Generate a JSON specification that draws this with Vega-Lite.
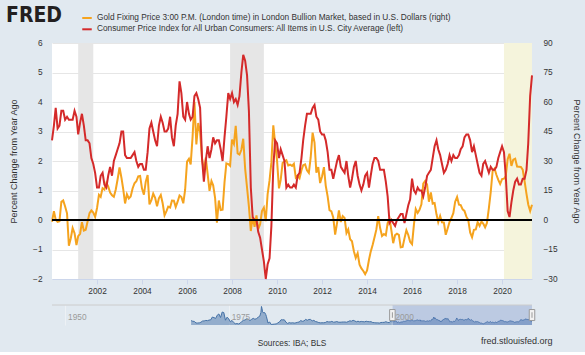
{
  "$schema": "https://vega.github.io/schema/vega-lite/v6.json",
  "background": "#e1e9f0",
  "padding": {"left": 6, "top": 12, "right": 5, "bottom": 5},
  "spacing": 9,
  "datasets": {
    "rec": [
      {"d": "2001-03-01", "e": "2001-11-01", "k": "a"},
      {"d": "2007-12-01", "e": "2009-06-01", "k": "a"},
      {"d": "2020-02-01", "e": "2021-05-01", "k": "b"}
    ],
    "main": [
      {"d":"2000-01-01","cpi":2.7,"gold":-0.9},{"d":"2000-02-01","cpi":3.2,"gold":4.5},{"d":"2000-03-01","cpi":3.8,"gold":0.1},{"d":"2000-04-01","cpi":3.1,"gold":-0.9},{"d":"2000-05-01","cpi":3.2,"gold":-0.6},{"d":"2000-06-01","cpi":3.7,"gold":9.3},{"d":"2000-07-01","cpi":3.7,"gold":10.0},{"d":"2000-08-01","cpi":3.4,"gold":6.9},{"d":"2000-09-01","cpi":3.5,"gold":3.4},{"d":"2000-10-01","cpi":3.4,"gold":-13.1},{"d":"2000-11-01","cpi":3.4,"gold":-9.3},{"d":"2000-12-01","cpi":3.4,"gold":-4.1},
      {"d":"2001-01-01","cpi":3.7,"gold":-6.7},{"d":"2001-02-01","cpi":3.5,"gold":-12.7},{"d":"2001-03-01","cpi":2.9,"gold":-8.2},{"d":"2001-04-01","cpi":3.3,"gold":-7.0},{"d":"2001-05-01","cpi":3.6,"gold":-1.1},{"d":"2001-06-01","cpi":3.2,"gold":-5.4},{"d":"2001-07-01","cpi":2.7,"gold":-5.0},{"d":"2001-08-01","cpi":2.7,"gold":-0.8},{"d":"2001-09-01","cpi":2.6,"gold":3.5},{"d":"2001-10-01","cpi":2.1,"gold":4.9},{"d":"2001-11-01","cpi":1.9,"gold":3.8},{"d":"2001-12-01","cpi":1.6,"gold":1.6},
      {"d":"2002-01-01","cpi":1.1,"gold":6.1},{"d":"2002-02-01","cpi":1.1,"gold":12.8},{"d":"2002-03-01","cpi":1.5,"gold":11.8},{"d":"2002-04-01","cpi":1.6,"gold":16.2},{"d":"2002-05-01","cpi":1.2,"gold":15.5},{"d":"2002-06-01","cpi":1.1,"gold":18.9},{"d":"2002-07-01","cpi":1.5,"gold":17.1},{"d":"2002-08-01","cpi":1.8,"gold":13.9},{"d":"2002-09-01","cpi":1.5,"gold":12.6},{"d":"2002-10-01","cpi":2.0,"gold":11.8},{"d":"2002-11-01","cpi":2.2,"gold":15.5},{"d":"2002-12-01","cpi":2.4,"gold":20.7},
      {"d":"2003-01-01","cpi":2.6,"gold":26.7},{"d":"2003-02-01","cpi":3.0,"gold":21.5},{"d":"2003-03-01","cpi":3.0,"gold":15.9},{"d":"2003-04-01","cpi":2.2,"gold":8.4},{"d":"2003-05-01","cpi":2.1,"gold":13.1},{"d":"2003-06-01","cpi":2.1,"gold":11.0},{"d":"2003-07-01","cpi":2.1,"gold":12.0},{"d":"2003-08-01","cpi":2.2,"gold":16.0},{"d":"2003-09-01","cpi":2.3,"gold":18.7},{"d":"2003-10-01","cpi":2.0,"gold":19.7},{"d":"2003-11-01","cpi":1.8,"gold":22.2},{"d":"2003-12-01","cpi":1.9,"gold":22.4},
      {"d":"2004-01-01","cpi":1.9,"gold":16.0},{"d":"2004-02-01","cpi":1.7,"gold":12.9},{"d":"2004-03-01","cpi":1.7,"gold":19.4},{"d":"2004-04-01","cpi":2.3,"gold":22.9},{"d":"2004-05-01","cpi":3.1,"gold":7.9},{"d":"2004-06-01","cpi":3.3,"gold":10.1},{"d":"2004-07-01","cpi":3.0,"gold":13.4},{"d":"2004-08-01","cpi":2.7,"gold":11.3},{"d":"2004-09-01","cpi":2.5,"gold":7.0},{"d":"2004-10-01","cpi":3.2,"gold":11.0},{"d":"2004-11-01","cpi":3.5,"gold":12.7},{"d":"2004-12-01","cpi":3.3,"gold":8.5},
      {"d":"2005-01-01","cpi":3.0,"gold":2.4},{"d":"2005-02-01","cpi":3.0,"gold":4.5},{"d":"2005-03-01","cpi":3.1,"gold":6.8},{"d":"2005-04-01","cpi":3.5,"gold":6.3},{"d":"2005-05-01","cpi":2.8,"gold":9.9},{"d":"2005-06-01","cpi":2.5,"gold":9.8},{"d":"2005-07-01","cpi":3.2,"gold":6.6},{"d":"2005-08-01","cpi":3.6,"gold":9.3},{"d":"2005-09-01","cpi":4.7,"gold":12.5},{"d":"2005-10-01","cpi":4.3,"gold":11.7},{"d":"2005-11-01","cpi":3.5,"gold":8.5},{"d":"2005-12-01","cpi":3.4,"gold":15.4},
      {"d":"2006-01-01","cpi":4.0,"gold":29.7},{"d":"2006-02-01","cpi":3.6,"gold":31.1},{"d":"2006-03-01","cpi":3.4,"gold":28.3},{"d":"2006-04-01","cpi":3.5,"gold":42.4},{"d":"2006-05-01","cpi":4.2,"gold":60.1},{"d":"2006-06-01","cpi":4.3,"gold":38.4},{"d":"2006-07-01","cpi":4.1,"gold":49.3},{"d":"2006-08-01","cpi":3.8,"gold":44.5},{"d":"2006-09-01","cpi":2.1,"gold":31.2},{"d":"2006-10-01","cpi":1.3,"gold":24.7},{"d":"2006-11-01","cpi":2.0,"gold":31.7},{"d":"2006-12-01","cpi":2.5,"gold":23.5},
      {"d":"2007-01-01","cpi":2.1,"gold":14.8},{"d":"2007-02-01","cpi":2.4,"gold":19.8},{"d":"2007-03-01","cpi":2.8,"gold":17.6},{"d":"2007-04-01","cpi":2.6,"gold":11.3},{"d":"2007-05-01","cpi":2.7,"gold":-1.3},{"d":"2007-06-01","cpi":2.7,"gold":9.9},{"d":"2007-07-01","cpi":2.4,"gold":5.0},{"d":"2007-08-01","cpi":2.0,"gold":5.2},{"d":"2007-09-01","cpi":2.8,"gold":19.1},{"d":"2007-10-01","cpi":3.5,"gold":28.8},{"d":"2007-11-01","cpi":4.3,"gold":28.4},{"d":"2007-12-01","cpi":4.1,"gold":27.5},
      {"d":"2008-01-01","cpi":4.3,"gold":40.9},{"d":"2008-02-01","cpi":4.0,"gold":38.7},{"d":"2008-03-01","cpi":4.1,"gold":47.9},{"d":"2008-04-01","cpi":3.9,"gold":33.9},{"d":"2008-05-01","cpi":4.2,"gold":33.3},{"d":"2008-06-01","cpi":5.0,"gold":35.7},{"d":"2008-07-01","cpi":5.6,"gold":41.3},{"d":"2008-08-01","cpi":5.4,"gold":26.1},{"d":"2008-09-01","cpi":4.9,"gold":16.4},{"d":"2008-10-01","cpi":3.7,"gold":6.9},{"d":"2008-11-01","cpi":1.1,"gold":-5.6},{"d":"2008-12-01","cpi":0.1,"gold":1.6},
      {"d":"2009-01-01","cpi":0.0,"gold":-3.5},{"d":"2009-02-01","cpi":0.0,"gold":2.3},{"d":"2009-03-01","cpi":-0.4,"gold":-4.6},{"d":"2009-04-01","cpi":-0.6,"gold":-2.1},{"d":"2009-05-01","cpi":-1.0,"gold":4.5},{"d":"2009-06-01","cpi":-1.4,"gold":6.3},{"d":"2009-07-01","cpi":-2.0,"gold":-0.6},{"d":"2009-08-01","cpi":-1.5,"gold":13.2},{"d":"2009-09-01","cpi":-1.3,"gold":20.1},{"d":"2009-10-01","cpi":-0.2,"gold":29.3},{"d":"2009-11-01","cpi":1.8,"gold":48.1},{"d":"2009-12-01","cpi":2.7,"gold":39.0},
      {"d":"2010-01-01","cpi":2.6,"gold":30.2},{"d":"2010-02-01","cpi":2.1,"gold":16.1},{"d":"2010-03-01","cpi":2.4,"gold":20.4},{"d":"2010-04-01","cpi":2.2,"gold":29.0},{"d":"2010-05-01","cpi":2.0,"gold":29.8},{"d":"2010-06-01","cpi":1.1,"gold":30.4},{"d":"2010-07-01","cpi":1.2,"gold":27.7},{"d":"2010-08-01","cpi":1.1,"gold":28.1},{"d":"2010-09-01","cpi":1.1,"gold":27.5},{"d":"2010-10-01","cpi":1.2,"gold":28.6},{"d":"2010-11-01","cpi":1.1,"gold":21.6},{"d":"2010-12-01","cpi":1.5,"gold":22.6},
      {"d":"2011-01-01","cpi":1.6,"gold":21.3},{"d":"2011-02-01","cpi":2.1,"gold":25.3},{"d":"2011-03-01","cpi":2.7,"gold":27.9},{"d":"2011-04-01","cpi":3.2,"gold":28.3},{"d":"2011-05-01","cpi":3.6,"gold":25.3},{"d":"2011-06-01","cpi":3.6,"gold":24.0},{"d":"2011-07-01","cpi":3.6,"gold":31.8},{"d":"2011-08-01","cpi":3.8,"gold":44.4},{"d":"2011-09-01","cpi":3.9,"gold":39.4},{"d":"2011-10-01","cpi":3.5,"gold":24.1},{"d":"2011-11-01","cpi":3.4,"gold":26.9},{"d":"2011-12-01","cpi":3.0,"gold":18.8},
      {"d":"2012-01-01","cpi":2.9,"gold":22.1},{"d":"2012-02-01","cpi":2.9,"gold":26.9},{"d":"2012-03-01","cpi":2.7,"gold":17.5},{"d":"2012-04-01","cpi":2.3,"gold":12.0},{"d":"2012-05-01","cpi":1.7,"gold":5.0},{"d":"2012-06-01","cpi":1.7,"gold":4.4},{"d":"2012-07-01","cpi":1.4,"gold":1.3},{"d":"2012-08-01","cpi":1.7,"gold":-7.4},{"d":"2012-09-01","cpi":2.0,"gold":-1.5},{"d":"2012-10-01","cpi":2.2,"gold":4.9},{"d":"2012-11-01","cpi":1.8,"gold":-1.0},{"d":"2012-12-01","cpi":1.7,"gold":2.0},
      {"d":"2013-01-01","cpi":1.6,"gold":1.0},{"d":"2013-02-01","cpi":2.0,"gold":-6.6},{"d":"2013-03-01","cpi":1.5,"gold":-4.8},{"d":"2013-04-01","cpi":1.1,"gold":-9.8},{"d":"2013-05-01","cpi":1.4,"gold":-10.8},{"d":"2013-06-01","cpi":1.8,"gold":-15.9},{"d":"2013-07-01","cpi":2.0,"gold":-19.3},{"d":"2013-08-01","cpi":1.5,"gold":-16.9},{"d":"2013-09-01","cpi":1.2,"gold":-22.7},{"d":"2013-10-01","cpi":1.0,"gold":-24.6},{"d":"2013-11-01","cpi":1.2,"gold":-25.9},{"d":"2013-12-01","cpi":1.5,"gold":-27.5},
      {"d":"2014-01-01","cpi":1.6,"gold":-25.6},{"d":"2014-02-01","cpi":1.1,"gold":-20.2},{"d":"2014-03-01","cpi":1.5,"gold":-16.1},{"d":"2014-04-01","cpi":1.9,"gold":-12.7},{"d":"2014-05-01","cpi":2.1,"gold":-8.9},{"d":"2014-06-01","cpi":2.1,"gold":-4.8},{"d":"2014-07-01","cpi":2.0,"gold":2.0},{"d":"2014-08-01","cpi":1.7,"gold":-4.1},{"d":"2014-09-01","cpi":1.7,"gold":-8.1},{"d":"2014-10-01","cpi":1.7,"gold":-7.1},{"d":"2014-11-01","cpi":1.3,"gold":-7.8},{"d":"2014-12-01","cpi":0.8,"gold":-1.6},
      {"d":"2015-01-01","cpi":-0.1,"gold":0.6},{"d":"2015-02-01","cpi":0.0,"gold":-5.6},{"d":"2015-03-01","cpi":-0.1,"gold":-11.8},{"d":"2015-04-01","cpi":-0.2,"gold":-7.7},{"d":"2015-05-01","cpi":0.0,"gold":-7.0},{"d":"2015-06-01","cpi":0.1,"gold":-7.6},{"d":"2015-07-01","cpi":0.2,"gold":-13.9},{"d":"2015-08-01","cpi":0.2,"gold":-13.7},{"d":"2015-09-01","cpi":-0.1,"gold":-9.2},{"d":"2015-10-01","cpi":0.2,"gold":-5.2},{"d":"2015-11-01","cpi":0.5,"gold":-7.6},{"d":"2015-12-01","cpi":0.7,"gold":-11.1},
      {"d":"2016-01-01","cpi":1.4,"gold":-12.3},{"d":"2016-02-01","cpi":1.0,"gold":-2.2},{"d":"2016-03-01","cpi":0.9,"gold":5.6},{"d":"2016-04-01","cpi":1.1,"gold":3.6},{"d":"2016-05-01","cpi":1.0,"gold":5.2},{"d":"2016-06-01","cpi":1.0,"gold":8.0},{"d":"2016-07-01","cpi":0.8,"gold":18.5},{"d":"2016-08-01","cpi":1.1,"gold":19.9},{"d":"2016-09-01","cpi":1.5,"gold":18.0},{"d":"2016-10-01","cpi":1.6,"gold":9.3},{"d":"2016-11-01","cpi":1.7,"gold":14.0},{"d":"2016-12-01","cpi":2.1,"gold":8.3},
      {"d":"2017-01-01","cpi":2.5,"gold":8.6},{"d":"2017-02-01","cpi":2.7,"gold":2.9},{"d":"2017-03-01","cpi":2.4,"gold":-1.1},{"d":"2017-04-01","cpi":2.2,"gold":2.0},{"d":"2017-05-01","cpi":1.9,"gold":-1.2},{"d":"2017-06-01","cpi":1.6,"gold":-1.3},{"d":"2017-07-01","cpi":1.7,"gold":-7.5},{"d":"2017-08-01","cpi":1.9,"gold":-4.3},{"d":"2017-09-01","cpi":2.2,"gold":-0.9},{"d":"2017-10-01","cpi":2.0,"gold":1.0},{"d":"2017-11-01","cpi":2.2,"gold":3.5},{"d":"2017-12-01","cpi":2.1,"gold":9.3},
      {"d":"2018-01-01","cpi":2.1,"gold":11.7},{"d":"2018-02-01","cpi":2.2,"gold":7.8},{"d":"2018-03-01","cpi":2.4,"gold":7.6},{"d":"2018-04-01","cpi":2.5,"gold":5.4},{"d":"2018-05-01","cpi":2.8,"gold":4.6},{"d":"2018-06-01","cpi":2.9,"gold":1.7},{"d":"2018-07-01","cpi":2.9,"gold":0.1},{"d":"2018-08-01","cpi":2.7,"gold":-6.3},{"d":"2018-09-01","cpi":2.3,"gold":-8.8},{"d":"2018-10-01","cpi":2.5,"gold":-5.0},{"d":"2018-11-01","cpi":2.2,"gold":-4.8},{"d":"2018-12-01","cpi":1.9,"gold":-1.1},
      {"d":"2019-01-01","cpi":1.6,"gold":-3.0},{"d":"2019-02-01","cpi":1.5,"gold":-0.8},{"d":"2019-03-01","cpi":1.9,"gold":-1.8},{"d":"2019-04-01","cpi":2.0,"gold":-3.7},{"d":"2019-05-01","cpi":1.8,"gold":-1.5},{"d":"2019-06-01","cpi":1.6,"gold":6.0},{"d":"2019-07-01","cpi":1.8,"gold":14.2},{"d":"2019-08-01","cpi":1.7,"gold":24.9},{"d":"2019-09-01","cpi":1.7,"gold":26.1},{"d":"2019-10-01","cpi":1.8,"gold":23.0},{"d":"2019-11-01","cpi":2.1,"gold":20.4},{"d":"2019-12-01","cpi":2.3,"gold":18.3},
      {"d":"2020-01-01","cpi":2.5,"gold":20.8},{"d":"2020-02-01","cpi":2.3,"gold":21.0},{"d":"2020-03-01","cpi":1.5,"gold":22.4},{"d":"2020-04-01","cpi":0.3,"gold":30.9},{"d":"2020-05-01","cpi":0.1,"gold":33.7},{"d":"2020-06-01","cpi":0.6,"gold":27.5},{"d":"2020-07-01","cpi":1.0,"gold":30.7},{"d":"2020-08-01","cpi":1.3,"gold":31.2},{"d":"2020-09-01","cpi":1.4,"gold":27.2},{"d":"2020-10-01","cpi":1.2,"gold":27.1},{"d":"2020-11-01","cpi":1.2,"gold":27.0},{"d":"2020-12-01","cpi":1.4,"gold":25.6},
      {"d":"2021-01-01","cpi":1.4,"gold":19.6},{"d":"2021-02-01","cpi":1.7,"gold":13.2},{"d":"2021-03-01","cpi":2.6,"gold":7.9},{"d":"2021-04-01","cpi":4.2,"gold":4.6},{"d":"2021-05-01","cpi":4.9,"gold":7.8}
    ],
    "hist": [
      {"d":"1969-04-01","gold":14},{"d":"1969-07-01","gold":5.8},{"d":"1969-10-01","gold":2.8},
      {"d":"1970-01-01","gold":-17.3},{"d":"1970-04-01","gold":-17},{"d":"1970-07-01","gold":-15.6},{"d":"1970-10-01","gold":-7.2},
      {"d":"1971-01-01","gold":8.6},{"d":"1971-04-01","gold":9.7},{"d":"1971-07-01","gold":16.1},{"d":"1971-10-01","gold":13.3},
      {"d":"1972-01-01","gold":20.8},{"d":"1972-04-01","gold":24},{"d":"1972-07-01","gold":60.2},{"d":"1972-10-01","gold":52.7},
      {"d":"1973-01-01","gold":42.1},{"d":"1973-04-01","gold":84.7},{"d":"1973-07-01","gold":100},{"d":"1973-10-01","gold":54.2},
      {"d":"1974-01-01","gold":125},{"d":"1974-04-01","gold":118},{"d":"1974-07-01","gold":19},{"d":"1974-10-01","gold":58.6},
      {"d":"1975-01-01","gold":36.5},{"d":"1975-04-01","gold":-1.3},{"d":"1975-07-01","gold":16.4},{"d":"1975-10-01","gold":-10},
      {"d":"1976-01-01","gold":-27.3},{"d":"1976-04-01","gold":-24.5},{"d":"1976-07-01","gold":-29.1},{"d":"1976-10-01","gold":-18.8},
      {"d":"1977-01-01","gold":3.2},{"d":"1977-04-01","gold":16.4},{"d":"1977-07-01","gold":22.2},{"d":"1977-10-01","gold":36.6},
      {"d":"1978-01-01","gold":30.9},{"d":"1978-04-01","gold":14.5},{"d":"1978-07-01","gold":30.6},{"d":"1978-10-01","gold":43.3},
      {"d":"1979-01-01","gold":31.2},{"d":"1979-04-01","gold":39.8},{"d":"1979-07-01","gold":57.5},{"d":"1979-10-01","gold":72.4},{"d":"1979-12-01","gold":119},
      {"d":"1980-01-01","gold":197},{"d":"1980-02-01","gold":171},{"d":"1980-03-01","gold":128},{"d":"1980-04-01","gold":116.5},{"d":"1980-07-01","gold":117.3},{"d":"1980-09-01","gold":90},{"d":"1980-10-01","gold":68.8},
      {"d":"1981-01-01","gold":-17.5},{"d":"1981-04-01","gold":-4.3},{"d":"1981-07-01","gold":-36.5},{"d":"1981-10-01","gold":-34},
      {"d":"1982-01-01","gold":-31.1},{"d":"1982-04-01","gold":-29.1},{"d":"1982-07-01","gold":-16.7},{"d":"1982-10-01","gold":-3.1},
      {"d":"1983-01-01","gold":25.1},{"d":"1983-04-01","gold":23.4},{"d":"1983-07-01","gold":24.1},{"d":"1983-10-01","gold":-6.8},
      {"d":"1984-01-01","gold":-22.8},{"d":"1984-04-01","gold":-11.9},{"d":"1984-07-01","gold":-17.8},{"d":"1984-10-01","gold":-13.7},
      {"d":"1985-01-01","gold":-18.4},{"d":"1985-04-01","gold":-14.9},{"d":"1985-07-01","gold":-8.7},{"d":"1985-10-01","gold":-4.2},
      {"d":"1986-01-01","gold":14.1},{"d":"1986-04-01","gold":4.8},{"d":"1986-07-01","gold":9.8},{"d":"1986-10-01","gold":29.9},
      {"d":"1987-01-01","gold":18.2},{"d":"1987-04-01","gold":28.8},{"d":"1987-07-01","gold":29.2},{"d":"1987-10-01","gold":10.2},
      {"d":"1988-01-01","gold":17},{"d":"1988-04-01","gold":2.4},{"d":"1988-07-01","gold":-3},{"d":"1988-10-01","gold":-11.6},
      {"d":"1989-01-01","gold":-15.4},{"d":"1989-04-01","gold":-14.4},{"d":"1989-07-01","gold":-14.1},{"d":"1989-10-01","gold":-11.2},
      {"d":"1990-01-01","gold":1.5},{"d":"1990-04-01","gold":-2.6},{"d":"1990-07-01","gold":-3.3},{"d":"1990-10-01","gold":3.9},
      {"d":"1991-01-01","gold":-6.5},{"d":"1991-04-01","gold":-4.6},{"d":"1991-07-01","gold":1.6},{"d":"1991-10-01","gold":-5.7},
      {"d":"1992-01-01","gold":-7.6},{"d":"1992-04-01","gold":-5.3},{"d":"1992-07-01","gold":-4.1},{"d":"1992-10-01","gold":-4.1},
      {"d":"1993-01-01","gold":-7.2},{"d":"1993-04-01","gold":1.1},{"d":"1993-07-01","gold":11},{"d":"1993-10-01","gold":6.6},
      {"d":"1994-01-01","gold":17.6},{"d":"1994-04-01","gold":10.3},{"d":"1994-07-01","gold":-1.6},{"d":"1994-10-01","gold":6.2},
      {"d":"1995-01-01","gold":-2.1},{"d":"1995-04-01","gold":3.3},{"d":"1995-07-01","gold":0.1},{"d":"1995-10-01","gold":-1.7},
      {"d":"1996-01-01","gold":5.5},{"d":"1996-04-01","gold":0.8},{"d":"1996-07-01","gold":-0.6},{"d":"1996-10-01","gold":-0.5},
      {"d":"1997-01-01","gold":-11.1},{"d":"1997-04-01","gold":-12.4},{"d":"1997-07-01","gold":-15.5},{"d":"1997-10-01","gold":-14.7},
      {"d":"1998-01-01","gold":-18.5},{"d":"1998-04-01","gold":-10.5},{"d":"1998-07-01","gold":-9.6},{"d":"1998-10-01","gold":-8.9},
      {"d":"1999-01-01","gold":-0.7},{"d":"1999-04-01","gold":-8.3},{"d":"1999-07-01","gold":-12.6},{"d":"1999-10-01","gold":5.0},{"d":"1999-12-01","gold":-2.9}
    ]
  },
  "vconcat": [
    {
      "width": 480,
      "height": 236,
      "view": {"fill": "white", "stroke": null},
      "encoding": {
        "x": {
          "field": "d", "type": "temporal",
          "scale": {"domain": [{"year": 2000, "month": 1, "date": 1}, {"year": 2021, "month": 5, "date": 1}]},
          "axis": {
            "values": [{"year": 2002}, {"year": 2004}, {"year": 2006}, {"year": 2008}, {"year": 2010}, {"year": 2012}, {"year": 2014}, {"year": 2016}, {"year": 2018}, {"year": 2020}],
            "format": "%Y", "title": null, "labelOverlap": false, "tickCount": 12
          }
        }
      },
      "layer": [
        {
          "data": {"name": "rec"},
          "mark": {"type": "rect"},
          "encoding": {
            "x2": {"field": "e"},
            "fill": {"condition": {"test": "datum.k === 'b'", "value": "#f5f4dc"}, "value": "#e6e6e6"}
          }
        },
        {
          "data": {"name": "main"},
          "mark": {"type": "line", "strokeWidth": 2},
          "encoding": {
            "y": {
              "field": "gold", "type": "quantitative",
              "scale": {"domain": [-30, 90], "nice": false, "zero": false},
              "axis": {"orient": "right", "values": [-30, -15, 0, 15, 30, 45, 60, 75, 90], "tickCount": 9, "labelOverlap": false, "title": "Percent Change from Year Ago", "grid": false, "domain": false, "ticks": false, "labelPadding": 11, "titlePadding": 14.5}
            },
            "color": {
              "datum": "Gold Fixing Price 3:00 P.M. (London time) in London Bullion Market, based in U.S. Dollars (right)",
              "scale": {
                "domain": ["Gold Fixing Price 3:00 P.M. (London time) in London Bullion Market, based in U.S. Dollars (right)", "Consumer Price Index for All Urban Consumers: All Items in U.S. City Average (left)"],
                "range": ["#f5a31e", "#d42a2a"]
              },
              "legend": {
                "orient": "none", "legendX": -46, "legendY": -31, "direction": "vertical",
                "title": "FRED", "titleOrient": "left",
                "titleFont": "Liberation Sans Narrow, DejaVu Sans Condensed, Liberation Sans, sans-serif",
                "titleFontSize": 21, "titleFontWeight": "bold", "titleColor": "#231f20",
                "titleBaseline": "line-top", "titleLineHeight": 8, "titleAnchor": "start", "titlePadding": 18,
                "symbolType": "stroke", "symbolStrokeWidth": 2, "symbolSize": 90,
                "labelFont": "Liberation Sans", "labelFontSize": 8.3, "labelColor": "#333333",
                "labelOffset": 4, "labelLimit": 600, "rowPadding": 1.3, "padding": 0
              }
            }
          }
        },
        {
          "layer": [
            {
              "data": {"name": "main"},
              "mark": {"type": "line", "strokeWidth": 2},
              "encoding": {
                "y": {
                  "field": "cpi", "type": "quantitative",
                  "scale": {"domain": [-2, 6], "nice": false, "zero": false},
                  "axis": {"orient": "left", "values": [-2, -1, 0, 1, 2, 3, 4, 5, 6], "tickCount": 9, "labelOverlap": false, "title": "Percent Change from Year Ago", "grid": true, "gridColor": "#e6e6e6", "domain": false, "ticks": false, "labelPadding": 10, "titlePadding": 14.5}
                },
                "color": {"datum": "Consumer Price Index for All Urban Consumers: All Items in U.S. City Average (left)"}
              }
            },
            {
              "data": {"values": [{"d": "2000-01-01", "e": "2021-05-01"}]},
              "mark": {"type": "rule", "color": "#000000", "strokeWidth": 2},
              "encoding": {"x2": {"field": "e"}, "y": {"datum": 0}}
            }
          ]
        }
      ],
      "resolve": {"scale": {"y": "independent"}}
    },
    {
      "width": 480,
      "height": 20,
      "view": {"fill": null, "stroke": null},
      "title": {"text": "Sources: IBA; BLS", "orient": "bottom", "anchor": "middle", "font": "Liberation Sans", "fontSize": 8.3, "fontWeight": "normal", "color": "#333333", "offset": -6.5},
      "encoding": {
        "x": {
          "field": "d", "type": "temporal",
          "scale": {"domain": [{"year": 1948, "month": 1, "date": 1}, {"year": 2021, "month": 5, "date": 1}]},
          "axis": {
            "values": [{"year": 1950}, {"year": 1975}, {"year": 2000}],
            "grid": true, "gridColor": "#edf1f5", "labels": false, "ticks": false, "domain": false,
            "title": "fred.stlouisfed.org", "titleX": 500, "titleY": 18, "titleAlign": "right", "titleBaseline": "alphabetic",
            "titleFontSize": 9, "titleFontWeight": "normal", "titleColor": "#333333"
          }
        }
      },
      "layer": [
        {
          "data": {"name": "hist"},
          "mark": {"type": "area", "color": "#4572a7", "fillOpacity": 0.5, "line": {"color": "#4572a7", "strokeWidth": 1}},
          "encoding": {
            "y": {"field": "gold", "type": "quantitative", "scale": {"domain": [-43, 216], "nice": false, "zero": false}, "axis": null},
            "y2": {"datum": -43}
          }
        },
        {
          "data": {"name": "main"},
          "mark": {"type": "area", "color": "#4572a7", "fillOpacity": 0.5, "line": {"color": "#4572a7", "strokeWidth": 1}},
          "encoding": {
            "y": {"field": "gold", "type": "quantitative", "axis": null},
            "y2": {"datum": -43}
          }
        },
        {
          "data": {"values": [{"d": "2000-01-01", "e": "2021-05-01"}]},
          "mark": {"type": "rect", "color": "#6685c2", "opacity": 0.3},
          "encoding": {"x2": {"field": "e"}}
        },
        {
          "data": {"values": [{"d": "1948-01-01", "e": "2021-05-01"}]},
          "mark": {"type": "rule", "color": "#cccccc", "strokeWidth": 1},
          "encoding": {"x2": {"field": "e"}, "y": {"datum": 216}}
        },
        {
          "data": {"values": [{"d": "1950-01-01", "t": "1950"}, {"d": "1975-01-01", "t": "1975"}, {"d": "2000-01-01", "t": "2000"}]},
          "mark": {"type": "text", "align": "left", "dx": 3, "baseline": "middle", "font": "Liberation Sans", "fontSize": 8.3, "color": "#9a9a9a"},
          "encoding": {"text": {"field": "t"}, "y": {"datum": 51}}
        },
        {
          "data": {"values": [{"d": "2000-01-01"}, {"d": "2021-05-01"}]},
          "mark": {"type": "point", "shape": "M-0.5,-1H0.5V1H-0.5Z M0,-0.5V0.5", "size": 121, "filled": true, "fill": "#f2f2f2", "stroke": "#999999", "strokeWidth": 1, "opacity": 1},
          "encoding": {"y": {"datum": 86}}
        }
      ]
    }
  ],
  "resolve": {"scale": {"color": "independent"}, "legend": {"color": "independent"}},
  "config": {
    "font": "Liberation Sans",
    "view": {"stroke": null},
    "axis": {"labelFont": "Liberation Sans", "labelFontSize": 8.3, "labelColor": "#333333", "titleFont": "Liberation Sans", "titleFontSize": 9, "titleFontWeight": "normal", "titleColor": "#333333"},
    "axisX": {"tickSize": 5, "tickColor": "#ccd6eb", "domainColor": "#ccd6eb", "labelPadding": 2.5, "grid": false}
  }
}
